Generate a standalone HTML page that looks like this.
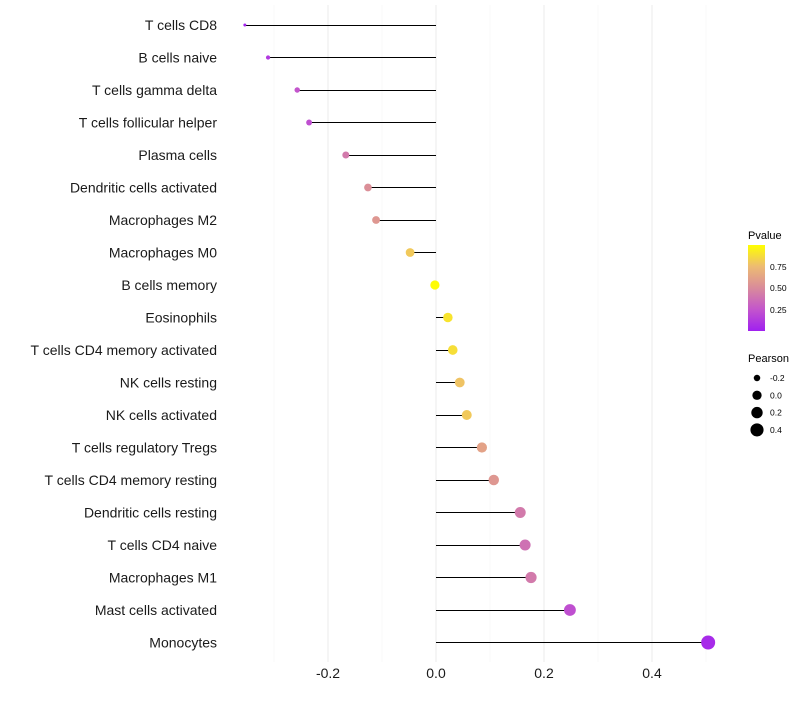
<!DOCTYPE html>
<html><head><meta charset="utf-8"><style>
body{margin:0;background:#fff;font-family:"Liberation Sans",sans-serif}
svg text{font-family:"Liberation Sans",sans-serif}
</style></head><body>
<svg id="chart" width="800" height="700">
<defs><linearGradient id="pg" x1="0" y1="1" x2="0" y2="0">
<stop offset="0" stop-color="#a020f0"/><stop offset="0.25" stop-color="#c355cc"/><stop offset="0.5" stop-color="#d98b9b"/><stop offset="0.75" stop-color="#edbb72"/><stop offset="1" stop-color="#ffff00"/>
</linearGradient></defs>
<g id="grid"></g><g id="marks"></g><g id="axes"></g>
<g>
<text x="748" y="239" font-size="11">Pvalue</text>
<rect x="748" y="245" width="17" height="86" fill="url(#pg)"/>
<text x="770" y="270" font-size="8.5">0.75</text>
<text x="770" y="291" font-size="8.5">0.50</text>
<text x="770" y="313" font-size="8.5">0.25</text>
<text x="748" y="362" font-size="11">Pearson</text>
<g id="sizeleg"></g>
</g>
</svg>
<script>
const categories=["T cells CD8","B cells naive","T cells gamma delta","T cells follicular helper","Plasma cells","Dendritic cells activated","Macrophages M2","Macrophages M0","B cells memory","Eosinophils","T cells CD4 memory activated","NK cells resting","NK cells activated","T cells regulatory  Tregs ","T cells CD4 memory resting","Dendritic cells resting","T cells CD4 naive","Macrophages M1","Mast cells activated","Monocytes"];
const pearson=[-0.354,-0.311,-0.257,-0.235,-0.167,-0.126,-0.111,-0.048,-0.002,0.022,0.031,0.044,0.057,0.085,0.107,0.156,0.165,0.176,0.248,0.504];
const pvalue=[0.02,0.12,0.25,0.22,0.42,0.52,0.56,0.8,0.99,0.9,0.88,0.78,0.8,0.62,0.56,0.42,0.38,0.42,0.22,0.05];
const xTicks=[-0.2,0,0.2,0.4];
const xTickLabels=["-0.2","0.0","0.2","0.4"];
const sizeLegend=[-0.2,0,0.2,0.4];
const sizeLegendLabels=["-0.2","0.0","0.2","0.4"];
const NS="http://www.w3.org/2000/svg";
const x=v=>436+v*540;
const y=i=>25+i*32.5;
const r=v=>Math.sqrt(Math.max(1,21.5+54.5*v));
const stops=[[0,[160,32,240]],[0.25,[195,85,204]],[0.5,[217,139,155]],[0.75,[237,187,114]],[1,[255,255,0]]];
function col(p){for(let k=1;k<stops.length;k++){if(p<=stops[k][0]){const a=stops[k-1],b=stops[k],t=(p-a[0])/(b[0]-a[0]);return "rgb("+a[1].map((c,j)=>Math.round(c+(b[1][j]-c)*t)).join(",")+")";}}return "rgb(255,255,0)";}
function mk(t,at,par){const e=document.createElementNS(NS,t);for(const k in at)e.setAttribute(k,at[k]);document.getElementById(par).appendChild(e);return e;}
for(let v=-0.3;v<=0.55;v+=0.1){const g=mk("line",{x1:x(v),x2:x(v),y1:5,y2:662,stroke:Math.abs(Math.round(v*10)%2)==0?"#ebebeb":"#f4f4f4","stroke-width":Math.abs(Math.round(v*10)%2)==0?1:0.6},"grid");

}
categories.forEach((c,i)=>{
const ys=Math.floor(y(i))+0.5;
const l=mk("line",{x1:x(0),x2:x(pearson[i]),y1:ys,y2:ys,stroke:"#000","stroke-width":1,"shape-rendering":"crispEdges"},"marks");


const d=mk("circle",{cx:x(pearson[i]),cy:y(i),r:r(pearson[i]),fill:col(pvalue[i])},"marks");


const t=mk("text",{x:217,y:y(i)+5,"text-anchor":"end","font-size":14,fill:"#1a1a1a"},"axes");t.textContent=c;


});
xTicks.forEach((v,i)=>{const t=mk("text",{x:x(v),y:678,"text-anchor":"middle","font-size":14,fill:"#1a1a1a"},"axes");t.textContent=xTickLabels[i];

});
sizeLegend.forEach((v,i)=>{const c=mk("circle",{cx:757,cy:378+i*17.3,r:r(v),fill:"#000"},"sizeleg");


const t=mk("text",{x:770,y:381+i*17.3,"font-size":8.5},"sizeleg");t.textContent=sizeLegendLabels[i];

});
</script>
</body></html>
